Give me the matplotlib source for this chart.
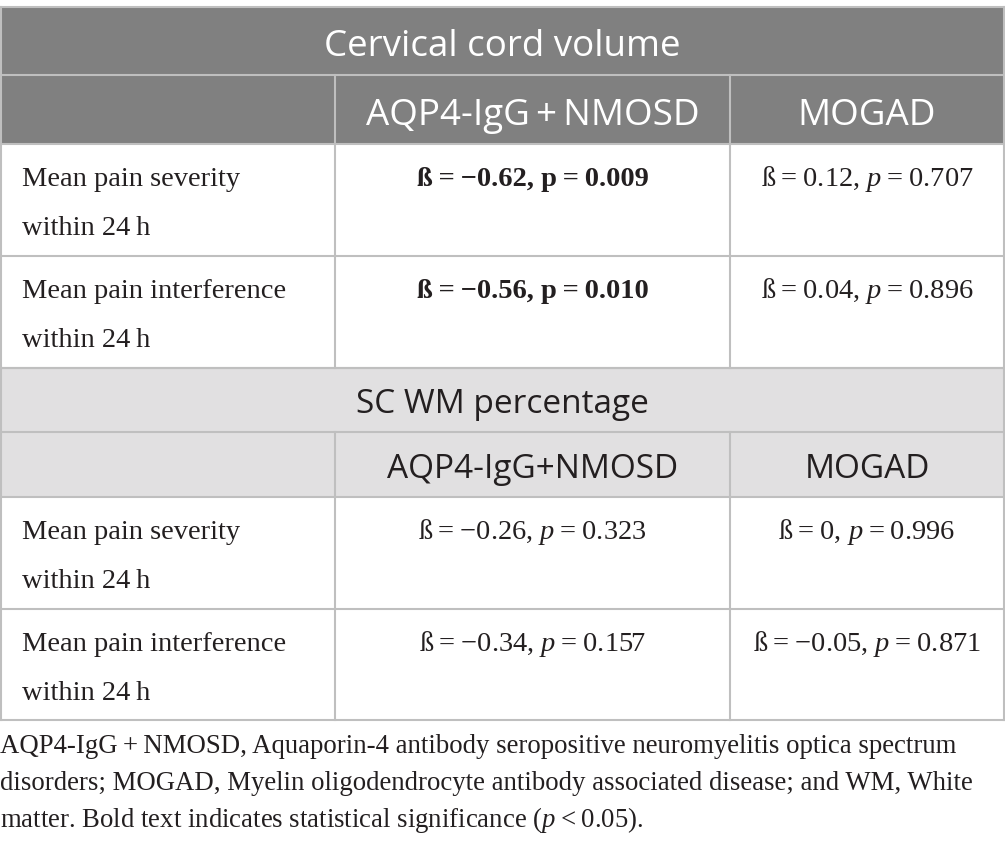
import matplotlib
matplotlib.use("Agg")
import matplotlib.pyplot as plt
from matplotlib.patches import Rectangle

plt.rcParams['mathtext.fontset'] = 'custom'
plt.rcParams['mathtext.rm'] = 'Liberation Serif'
plt.rcParams['mathtext.it'] = 'Liberation Serif:italic'
plt.rcParams['mathtext.bf'] = 'Liberation Serif:bold'

TS = "\u2009"
# ---- data ----
section_titles = ["Cervical cord volume", "SC WM percentage"]
group_headers = [["AQP4-IgG" + TS + "+" + TS + "NMOSD", "MOGAD"],
                 ["AQP4-IgG+NMOSD", "MOGAD"]]
row_labels = [["Mean pain severity", "within 24" + TS + "h"],
              ["Mean pain interference", "within 24" + TS + "h"]]
# values: (beta, p) per section, per row, per group
betas = [[["\u22120.62", "0.12"], ["\u22120.56", "0.04"]],
         [["\u22120.26", "0"], ["\u22120.34", "\u22120.05"]]]
pvals = [[["0.009", "0.707"], ["0.010", "0.896"]],
         [["0.323", "0.996"], ["0.157", "0.871"]]]
bold = [[[True, False], [True, False]],
        [[False, False], [False, False]]]
footnote = ["AQP4-IgG" + TS + "+" + TS + "NMOSD, Aquaporin-4 antibody seropositive neuromyelitis optica spectrum",
            "disorders; MOGAD, Myelin oligodendrocyte antibody associated disease; and WM, White",
            "matter. Bold text indicates statistical significance ($p$" + TS + "<" + TS + "0.05)."]

# ---- layout ----
W, H = 1005, 853
fig = plt.figure(figsize=(W / 100, H / 100), dpi=100)
ax = fig.add_axes([0, 0, 1, 1])
ax.set_xlim(0, W)
ax.set_ylim(H, 0)
ax.axis('off')

col_x = [0, 335, 730, 1004]
sec_rows = [[8, 76, 145, 257, 369], [369, 433, 498, 610, 721]]
dark = "#808080"
light = "#e1e0e1"
line_c = "#bfbfbf"
txt_c = "#231f20"
serif = ['Liberation Serif', 'DejaVu Serif']
sans = ['Open Sans', 'DejaVu Sans']

title_fill = [dark, light]
title_color = ["white", txt_c]
title_size = [26.5, 24]
body_size = 20.5

for s in range(2):
    r = sec_rows[s]
    # header backgrounds
    ax.add_patch(Rectangle((0, r[0]), W, r[2] - r[0], facecolor=title_fill[s], edgecolor='none', zorder=0))
    ax.text(W / 2, r[0] + (48 if s == 0 else 44), section_titles[s], ha='center', va='baseline',
            fontsize=title_size[s], family=sans, color=title_color[s])
    for g in range(2):
        cx = (col_x[g + 1] + col_x[g + 2]) / 2
        ax.text(cx, r[1] + (49 if s == 0 else 45), group_headers[s][g], ha='center', va='baseline',
                fontsize=title_size[s], family=sans, color=title_color[s])
    # data rows
    for i in range(2):
        top = r[2 + i]
        for k, lab in enumerate(row_labels[i]):
            ax.text(22, top + 41 + 49 * k, lab, ha='left', va='baseline', fontsize=body_size,
                    family=serif, color=txt_c)
        for g in range(2):
            cx = (col_x[g + 1] + col_x[g + 2]) / 2
            if bold[s][i][g]:
                t = "ß" + TS + "=" + TS + betas[s][i][g] + ", p" + TS + "=" + TS + pvals[s][i][g]
                ax.text(cx, top + 41, t, ha='center', va='baseline', fontsize=body_size,
                        family=serif, color=txt_c, fontweight='bold')
            else:
                t = "ß" + TS + "=" + TS + betas[s][i][g] + ", $p$" + TS + "=" + TS + pvals[s][i][g]
                ax.text(cx, top + 41, t, ha='center', va='baseline', fontsize=body_size,
                        family=serif, color=txt_c)
    # horizontal lines
    for y in r:
        ax.plot([0, W], [y, y], color=line_c, lw=1.5, zorder=2, solid_capstyle='butt')
    # vertical lines
    ax.plot([col_x[0] + 0.7, col_x[0] + 0.7], [r[0], r[-1]], color=line_c, lw=1.5, zorder=2)
    ax.plot([col_x[-1], col_x[-1]], [r[0], r[-1]], color=line_c, lw=1.5, zorder=2)
    for x in col_x[1:3]:
        ax.plot([x, x], [r[1], r[-1]], color=line_c, lw=1.5, zorder=2)

for k, line in enumerate(footnote):
    ax.text(0, 753 + 37 * k, line, ha='left', va='baseline', fontsize=19.3, family=serif, color=txt_c)

fig.savefig("out.png", dpi=100, facecolor='white')
